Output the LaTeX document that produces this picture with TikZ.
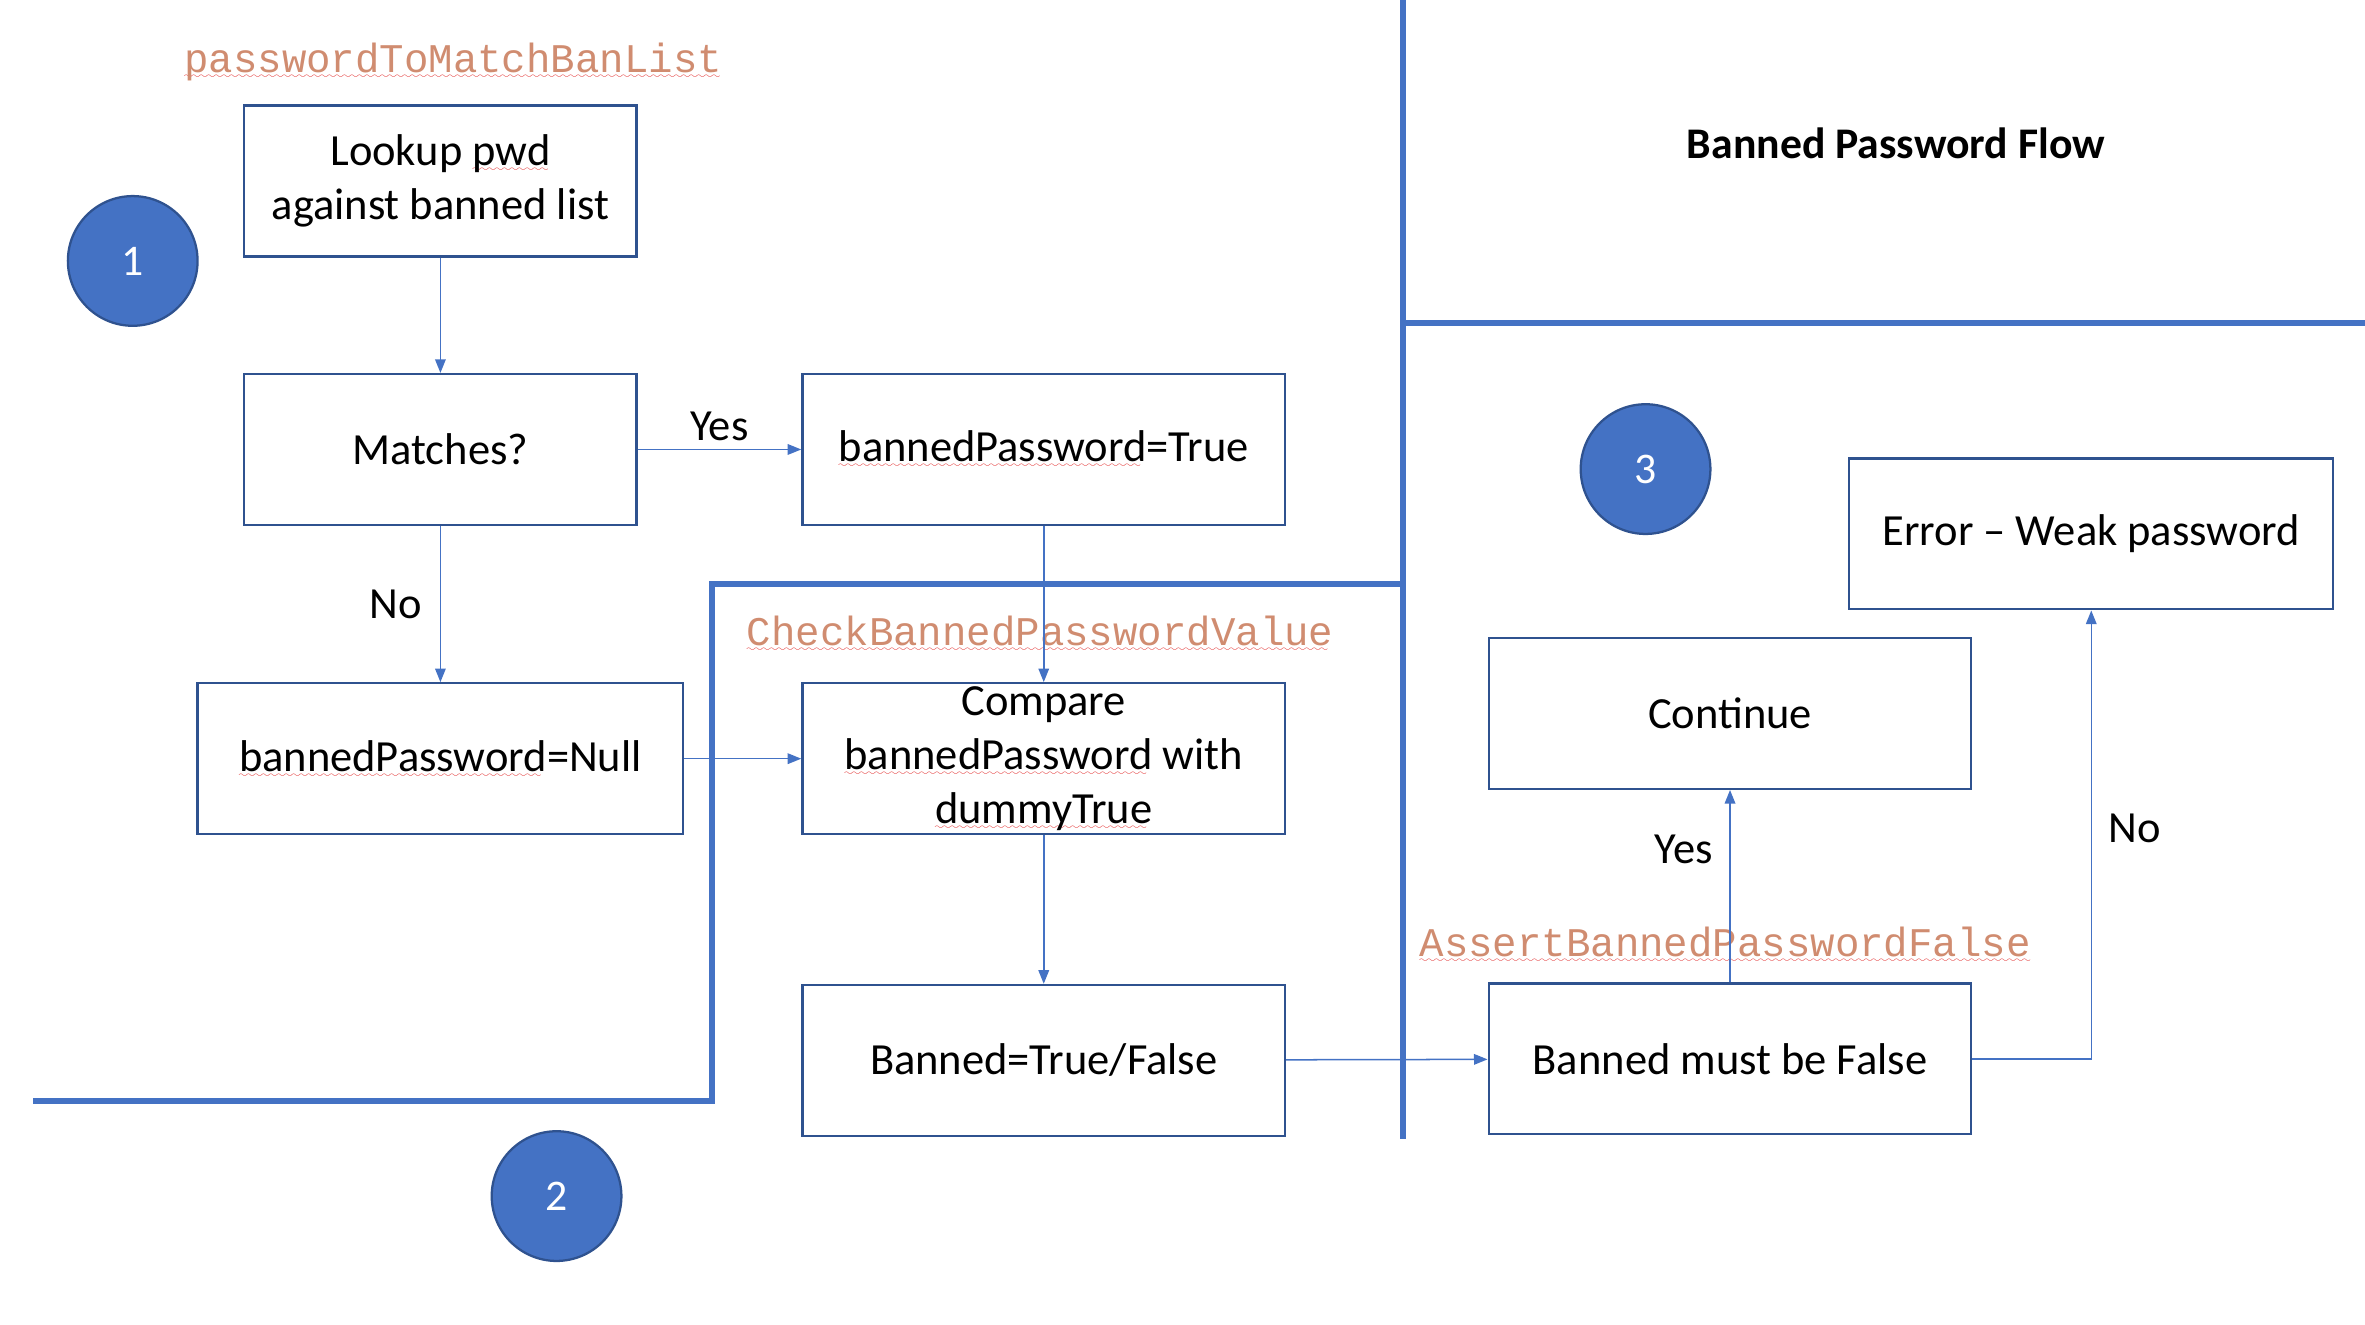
\documentclass[tikz,border=0pt]{standalone}
\usepackage{fontspec}
\setmainfont{Carlito}
\newfontfamily\codefont{Liberation Mono}
\usepackage{xcolor}
\usetikzlibrary{arrows.meta}

\definecolor{boxblue}{RGB}{47,82,143}
\definecolor{lineblue}{RGB}{68,114,196}
\definecolor{codeorange}{RGB}{208,140,112}
\definecolor{squigred}{RGB}{225,45,45}

% red wavy mark under words
\font\spellwave=lasy6
\newcommand\spell[1]{\setbox0\hbox{#1}\rlap{\lower4pt\hbox to \wd0{\color{squigred}\spellwave\leaders\hbox{\char58}\hfill}}\box0\relax}

\begin{document}
\begin{tikzpicture}[x=1pt, y=-1pt,
    box/.style={draw=boxblue, line width=1.5pt, minimum height=100pt, inner sep=0pt,
        align=center, font=\fontsize{29.5}{35.5}\selectfont},
    step circle/.style={circle, fill=lineblue, draw=boxblue, line width=1.5pt,
        minimum size=86pt, inner sep=0pt, text=white, font=\fontsize{29}{35}\selectfont},
    flow/.style={draw=lineblue, line width=1pt, -{Triangle[length=9pt,width=7pt]}},
    divider/.style={draw=lineblue, line width=4pt},
    code/.style={text=codeorange, inner sep=0pt, font=\codefont\fontsize{27}{30}\selectfont},
    lbl/.style={font=\fontsize{29.5}{35}\selectfont}]

    % Fix the page size
    \useasboundingbox (0,0) rectangle (1568,878);

    % Section borders
    \draw[divider] (930,0) -- (930,755);
    \draw[divider] (930,214) -- (1568,214);
    \draw[divider] (22,730) -- (472,730) -- (472,387) -- (930,387);

    % Step numbers
    \node[step circle] (one) at (88,173) {1};
    \node[step circle] (two) at (369,793) {2};
    \node[step circle] (three) at (1091,311) {3};

    % Title and method names
    \node[font=\bfseries\fontsize{29}{33}\selectfont] (title) at (1257,95) {Banned Password Flow};
    \node[code, anchor=base west] (matchname) at (122,48) {\spell{passwordToMatchBanList}};
    \node[code, anchor=base west] (checkname) at (495,428) {\spell{CheckBannedPasswordValue}};
    \node[code, anchor=base west] (assertname) at (941,634) {\spell{AssertBannedPasswordFalse}};

    % Flow boxes
    \node[box, minimum width=260pt] (lookup) at (292,120) {Lookup \spell{pwd}\\against banned list};
    \node[box, minimum width=260pt] (matches) at (292,298) {Matches?};
    \node[box, minimum width=320pt] (bptrue) at (692,298) {\spell{bannedPassword}=True};
    \node[box, minimum width=322pt] (bpnull) at (292,503) {\spell{bannedPassword}=Null};
    \node[box, minimum width=320pt] (compare) at (692,503) {Compare\\\spell{bannedPassword} with\\\spell{dummyTrue}};
    \node[box, minimum width=320pt] (bannedtf) at (692,703) {Banned=True/False};
    \node[box, minimum width=320pt] (mustfalse) at (1147,702) {Banned must be False};
    \node[box, minimum width=320pt] (continue) at (1147,473) {Continue};
    \node[box, minimum width=321pt] (weak) at (1386.5,354) {Error -- Weak password};

    % Connectors
    \draw[flow] (lookup) -- (matches);
    \draw[flow] (matches) -- node[lbl, above, inner sep=5pt] {Yes} (bptrue);
    \draw[flow] (matches) -- node[lbl, left, inner sep=12pt] {No} (bpnull);
    \draw[flow] (bptrue) -- (compare);
    \draw[flow] (bpnull) -- (compare);
    \draw[flow] (compare) -- (bannedtf);
    \draw[flow] (bannedtf) -- (mustfalse);
    \draw[flow] (mustfalse) -- node[lbl, left, inner sep=11pt, pos=0.69] {Yes} (continue);
    \draw[flow] (mustfalse.east) -| node[lbl, right, inner sep=11pt, pos=0.757] {No} (weak.south);
\end{tikzpicture}
\end{document}
